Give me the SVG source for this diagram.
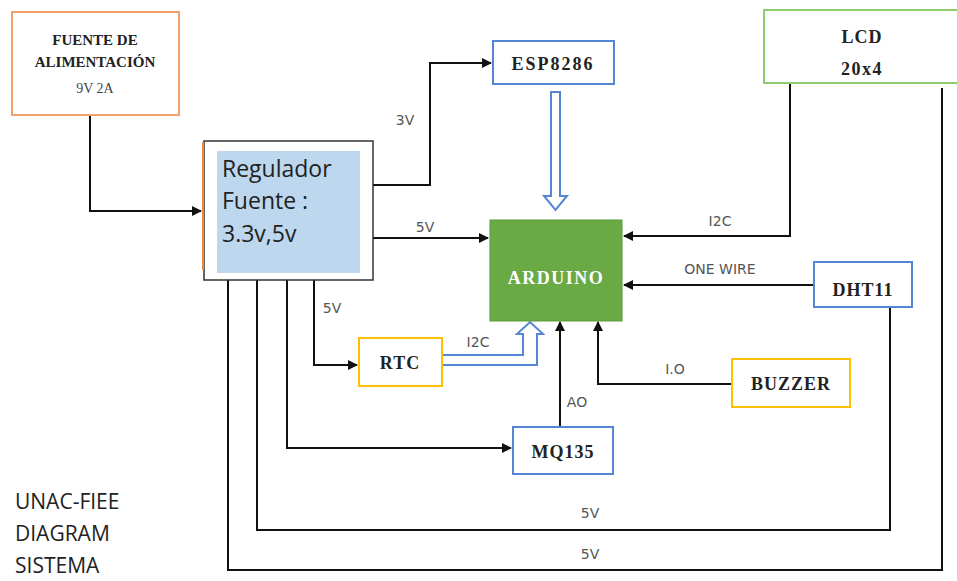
<svg xmlns="http://www.w3.org/2000/svg" width="957" height="581" viewBox="0 0 957 581">
<defs>
<marker id="ah" markerWidth="10" markerHeight="10" refX="9" refY="5" orient="auto" markerUnits="userSpaceOnUse">
<path d="M0,0 L10,5 L0,10 Z" fill="#111"/>
</marker>
<style>
.box{fill:#fff;stroke-width:2}
.blue{stroke:#5585d4}
.yel{stroke:#ffc000}
.grn{stroke:#8fcc6e}
.org{stroke:#f4a06a}
.bt{font-family:"Liberation Serif",serif;font-weight:bold;fill:#222;text-anchor:middle;font-size:18px;letter-spacing:1px}
.ln{fill:none;stroke:#111;stroke-width:2}
.lbl{font-family:"DejaVu Sans","Liberation Sans",sans-serif;fill:#555;font-size:14px;text-anchor:middle}
.cal{font-family:"Open Sans","Liberation Sans",sans-serif;fill:#222}
.hol{fill:#fff;stroke:#5585d4;stroke-width:2}
</style>
</defs>
<rect width="957" height="581" fill="#fff"/>

<g id="connectors">
<path class="ln" d="M90,115 V211 H201" marker-end="url(#ah)"/>
<path class="ln" d="M373,185 H430 V63 H491" marker-end="url(#ah)"/>
<path class="ln" d="M373,238 H488" marker-end="url(#ah)"/>
<path class="ln" d="M314,280 V365 H357" marker-end="url(#ah)"/>
<path class="ln" d="M287,280 V448 H511" marker-end="url(#ah)"/>
<path class="ln" d="M257,280 V530 H890 V307"/>
<path class="ln" d="M228,280 V570 H942 V88"/>
<path class="ln" d="M790,83 V236 H624" marker-end="url(#ah)"/>
<path class="ln" d="M814,285 H624" marker-end="url(#ah)"/>
<path class="ln" d="M732,384 H598 V322" marker-end="url(#ah)"/>
<path class="ln" d="M560,427 V322" marker-end="url(#ah)"/>
<path class="hol" d="M551,92 H560 V196 H567 L555.5,210 L544,196 H551 Z"/>
<path class="hol" d="M443,355 H523 V334 H517 L530,322 L543,334 H537 V365 H443"/>
<text class="lbl" x="405" y="125">3V</text>
<text class="lbl" x="425" y="232">5V</text>
<text class="lbl" x="332" y="313">5V</text>
<text class="lbl" x="478" y="347">I2C</text>
<text class="lbl" x="720" y="226">I2C</text>
<text class="lbl" x="720" y="274" font-size="13">ONE WIRE</text>
<text class="lbl" x="675" y="374">I.O</text>
<text class="lbl" x="577" y="407">AO</text>
<text class="lbl" x="590" y="518">5V</text>
<text class="lbl" x="590" y="559">5V</text>
</g>

<g id="fuente">
<rect class="box org" x="12" y="12" width="167" height="103"/>
<text class="bt" x="95" y="45" font-size="15" style="font-size:15px;letter-spacing:0">FUENTE DE</text>
<text class="bt" x="95" y="67" style="font-size:15px;letter-spacing:0">ALIMENTACIÓN</text>
<text x="95" y="93" font-size="14" font-family="Liberation Serif,serif" fill="#444" text-anchor="middle">9V 2A</text>
</g>

<g id="regulador">
<rect x="204" y="141" width="169" height="139" fill="#fff" stroke="#333" stroke-width="1.5"/>
<line x1="203" y1="142" x2="203" y2="270" stroke="#f0883e" stroke-width="2"/>
<rect x="217" y="151" width="143" height="122" fill="#bdd7ee"/>
<text class="cal" x="222" y="177" font-size="23">Regulador</text>
<text class="cal" x="222" y="209" font-size="23">Fuente :</text>
<text class="cal" x="222" y="242" font-size="23">3.3v,5v</text>
</g>

<g id="esp">
<rect class="box blue" x="493" y="41" width="121" height="43"/>
<text class="bt" x="553" y="70" style="letter-spacing:2px">ESP8286</text>
</g>

<g id="arduino">
<rect x="490" y="220" width="132" height="101" fill="#6aaa45" stroke="#5a9a38" stroke-width="1"/>
<text class="bt" x="556" y="284" style="fill:#fff;letter-spacing:1.5px">ARDUINO</text>
</g>

<g id="lcd">
<rect class="box grn" x="764" y="10" width="200" height="73"/>
<text class="bt" x="862" y="43">LCD</text>
<text class="bt" x="862" y="75" style="letter-spacing:1.5px">20x4</text>
</g>

<g id="dht11">
<rect class="box blue" x="814" y="262" width="98" height="45"/>
<text class="bt" x="863" y="296">DHT11</text>
</g>

<g id="buzzer">
<rect class="box yel" x="732" y="359" width="118" height="48"/>
<text class="bt" x="791" y="390">BUZZER</text>
</g>

<g id="rtc">
<rect class="box yel" x="359" y="338" width="83" height="48"/>
<text class="bt" x="400" y="369">RTC</text>
</g>

<g id="mq135">
<rect class="box blue" x="513" y="427" width="100" height="47"/>
<text class="bt" x="563" y="458">MQ135</text>
</g>

<g id="title">
<text class="cal" x="15" y="509" font-size="21">UNAC-FIEE</text>
<text class="cal" x="15" y="541" font-size="21">DIAGRAM</text>
<text class="cal" x="15" y="573" font-size="21">SISTEMA</text>
</g>
</svg>
